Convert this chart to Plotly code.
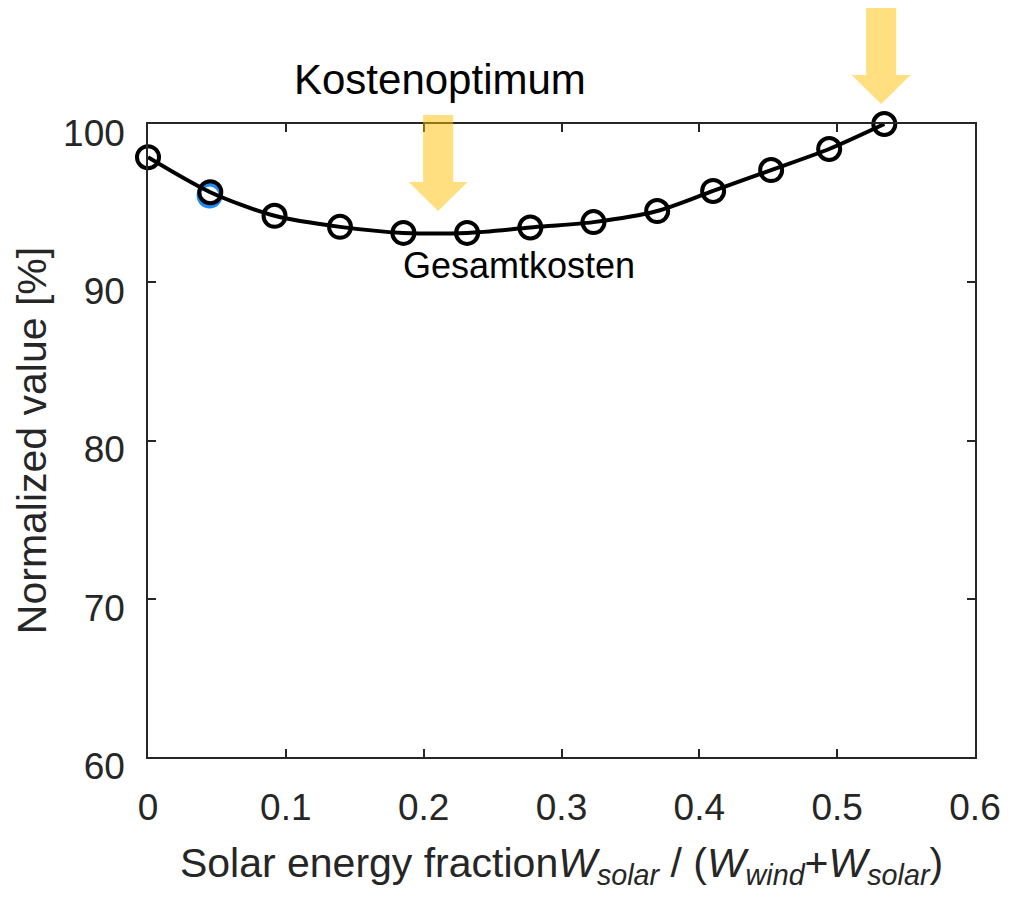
import plotly.graph_objects as go

# Total cost curve vs. solar energy share
solar_fraction = [0.0, 0.0452, 0.0918, 0.1393, 0.1853, 0.2315, 0.2774,
                  0.3232, 0.3694, 0.4100, 0.4521, 0.4942, 0.5342]
total_cost = [97.9, 95.69, 94.20, 93.50, 93.12, 93.12, 93.46,
              93.80, 94.50, 95.77, 97.09, 98.42, 100.0]

# Single highlighted point drawn underneath
highlight_x = [0.0447]
highlight_y = [95.48]

x_ticks = [0, 0.1, 0.2, 0.3, 0.4, 0.5, 0.6]
y_ticks = [60, 70, 80, 90, 100]

X_RANGE = (0.0, 0.6)
Y_RANGE = (60.0, 100.0)

FONT = "Liberation Sans, Arial, Helvetica, sans-serif"
AX_COLOR = "#262626"
ARROW_FILL = "rgba(255,192,0,0.5)"


def to_paper(x, y):
    px = (x - X_RANGE[0]) / (X_RANGE[1] - X_RANGE[0])
    py = (y - Y_RANGE[0]) / (Y_RANGE[1] - Y_RANGE[0])
    return px, py


def arrow_path(x_tip, y_tip, y_head, y_tail, shaft_half, head_half):
    pts = [
        (x_tip - shaft_half, y_tail),
        (x_tip + shaft_half, y_tail),
        (x_tip + shaft_half, y_head),
        (x_tip + head_half, y_head),
        (x_tip, y_tip),
        (x_tip - head_half, y_head),
        (x_tip - shaft_half, y_head),
    ]
    pp = [to_paper(x, y) for x, y in pts]
    return "M " + " L ".join(f"{a:.5f},{b:.5f}" for a, b in pp) + " Z"


fig = go.Figure()

fig.add_trace(go.Scatter(
    x=highlight_x, y=highlight_y, mode="markers",
    marker=dict(symbol="circle-open", size=22, color="#1E8CF0",
                line=dict(width=4, color="#1E8CF0")),
    showlegend=False, hoverinfo="skip",
))

fig.add_trace(go.Scatter(
    x=solar_fraction, y=total_cost, mode="lines+markers",
    line=dict(color="black", width=4, shape="spline", smoothing=0.8),
    marker=dict(symbol="circle-open", size=22, color="black",
                line=dict(width=4, color="black")),
    showlegend=False, cliponaxis=False,
))

# Arrows marking the cost optimum and the end point
arrows = [
    dict(x_tip=0.2105, y_tip=94.50, y_head=96.33, y_tail=100.57),
    dict(x_tip=0.5319, y_tip=101.26, y_head=103.10, y_tail=107.33),
]
for a in arrows:
    fig.add_shape(
        type="path", xref="paper", yref="paper",
        path=arrow_path(a["x_tip"], a["y_tip"], a["y_head"], a["y_tail"],
                        shaft_half=0.0109, head_half=0.0214),
        fillcolor=ARROW_FILL, line=dict(width=0), layer="above",
    )

kx, ky = to_paper(0.2116, 102.84)
fig.add_annotation(
    x=kx, y=ky, xref="paper", yref="paper", text="Kostenoptimum",
    showarrow=False, xanchor="center", yanchor="middle",
    font=dict(family=FONT, size=42, color="black"),
)
fig.add_annotation(
    x=0.2694, y=91.08, xref="x", yref="y", text="Gesamtkosten",
    showarrow=False, xanchor="center", yanchor="middle",
    font=dict(family=FONT, size=36, color="black"),
)

axis_common = dict(
    showline=True, linecolor=AX_COLOR, linewidth=1.5, mirror="ticks",
    ticks="inside", ticklen=8, tickwidth=1.5, tickcolor=AX_COLOR,
    showgrid=False, zeroline=False,
    tickfont=dict(family=FONT, size=37, color=AX_COLOR),
)

fig.update_xaxes(
    range=list(X_RANGE), tickvals=x_ticks,
    ticktext=[f"{v:g}" for v in x_ticks],
    ticklabelstandoff=17,
    title=dict(
        text="Solar energy fraction<i>W</i><sub><i>solar</i></sub> / "
             "(<i>W</i><sub><i>wind</i></sub>+<i>W</i><sub><i>solar</i></sub>)",
        font=dict(family=FONT, size=41, color=AX_COLOR), standoff=21),
    **axis_common,
)
fig.update_yaxes(
    range=list(Y_RANGE), tickvals=y_ticks,
    ticktext=[str(v) for v in y_ticks],
    ticklabelstandoff=14, ticklabelshift=9,
    title=dict(text="Normalized value [%]",
               font=dict(family=FONT, size=41, color=AX_COLOR), standoff=4),
    **axis_common,
)

fig.update_layout(
    width=1009, height=898,
    margin=dict(l=148, r=34, t=124, b=141, autoexpand=False),
    paper_bgcolor="white", plot_bgcolor="white",
    showlegend=False,
)

fig.write_html("out.html")
